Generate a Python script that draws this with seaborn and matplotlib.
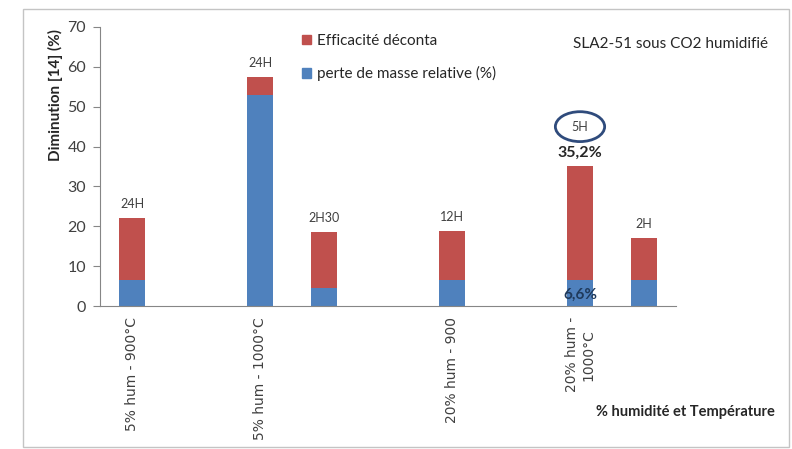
import numpy as np
import pandas as pd
import matplotlib.pyplot as plt
import seaborn as sns
from matplotlib.patches import Patch, Ellipse, Rectangle

# categories de l'axe x (emplacements vides compris)
tick_labels = ["5% hum - 900°C", "", "5% hum - 1000°C", "", "", "20% hum - 900", "",
               "20% hum -\n1000°C", ""]
bar_slots = [0, 2, 3, 5, 7, 8]
durees = ["24H", "24H", "2H30", "12H", "5H", "2H"]
perte_masse = [6.5, 53.0, 4.5, 6.5, 6.6, 6.4]
efficacite_total = [22.0, 57.5, 18.6, 18.8, 35.2, 17.0]

red = "#C0504D"
blue = "#4F81BD"
grey = "#868686"
txt = "#404040"

sns.set_style("white")
plt.rcParams['font.family'] = ['Lato', 'DejaVu Sans']

slot_keys = [str(i) for i in range(len(tick_labels))]
df = pd.DataFrame({"slot": [str(s) for s in bar_slots],
                   "perte": perte_masse,
                   "total": efficacite_total})

fig = plt.figure(figsize=(7.92, 4.49), dpi=100)
ax = fig.add_axes([100 / 792, 1 - 306 / 449, 576 / 792, 279 / 449])

sns.barplot(data=df, x="slot", y="total", order=slot_keys, color=red, width=0.4,
            saturation=1, errorbar=None, linewidth=0, ax=ax)
sns.barplot(data=df, x="slot", y="perte", order=slot_keys, color=blue, width=0.4,
            saturation=1, errorbar=None, linewidth=0, ax=ax)

ax.set_ylim(0, 70)
ax.set_xlim(-0.5, len(tick_labels) - 0.5)
ax.set_yticks(range(0, 71, 10))
ax.set_xticks(range(len(tick_labels)))
ax.set_xticklabels(tick_labels, rotation=90, fontfamily='DejaVu Sans', fontsize=10, color=txt)
ax.set_xticks(np.arange(-0.5, len(tick_labels), 1), minor=True)
ax.tick_params(axis='x', which='major', length=0, pad=8)
ax.tick_params(axis='x', which='minor', length=6, color=grey, width=0.8, direction='out')
ax.tick_params(axis='y', length=5, color=grey, width=0.8, direction='out', labelsize=11.5,
               labelcolor=txt, pad=5, left=True)
ax.set_xlabel("")
ax.set_ylabel("")
for s in ["top", "right"]:
    ax.spines[s].set_visible(False)
for s in ["left", "bottom"]:
    ax.spines[s].set_color(grey)
    ax.spines[s].set_linewidth(0.8)

# etiquettes de duree au-dessus des barres
for slot, tot, pm, d in zip(bar_slots, efficacite_total, perte_masse, durees):
    if d == "5H":
        ax.annotate(f"{tot:.1f}%".replace(".", ","), (slot, tot), xytext=(0, 9.5),
                    textcoords='offset points', ha='center', va='center',
                    fontsize=11.5, fontweight='bold', color='#262626')
        ax.annotate(d, (slot, tot), xytext=(0, 28), textcoords='offset points',
                    ha='center', va='center', fontsize=9, color=txt)
        ax.add_patch(Ellipse((slot, tot + 9.8), 0.77, 7.5, fill=False,
                             ec='#2F4B7C', lw=2))
        ax.annotate(f"{pm:.1f}%".replace(".", ","), (slot, 0), xytext=(0, 8),
                    textcoords='offset points', ha='center', va='center',
                    fontsize=11, fontweight='bold', color='#1f3a5c')
    else:
        ax.annotate(d, (slot, tot), xytext=(0, 10), textcoords='offset points',
                    ha='center', va='center', fontsize=9, color=txt)

handles = [Patch(color=red, label="Efficacité déconta"),
           Patch(color=blue, label="perte de masse relative (%)")]
fig.legend(handles=handles, loc='upper left', bbox_to_anchor=(302 / 792, 1 - 34 / 449),
           frameon=False, handlelength=0.6, handleheight=0.6, handletextpad=0.4,
           labelspacing=1.2, fontsize=11, borderaxespad=0, borderpad=0,
           labelcolor='#262626')

fig.text(768 / 792, 1 - 44 / 449, "SLA2-51 sous CO2 humidifié", ha='right', va='center',
         fontsize=11, color='#262626')
fig.text(55 / 792, 1 - 95 / 449, "Diminution [14] (%)", rotation=90, ha='center',
         va='center', fontsize=11, fontweight='bold', color='#262626')
fig.text(775 / 792, 1 - 412 / 449, "% humidité et Température", ha='right', va='center',
         fontsize=10.5, fontweight='bold', color='#262626')

fig.patches.append(Rectangle((23 / 792, 2 / 449), 766 / 792, 438 / 449,
                             transform=fig.transFigure, fill=False, ec='#c4c4c4', lw=1))

fig.savefig("out.png", dpi=100)
